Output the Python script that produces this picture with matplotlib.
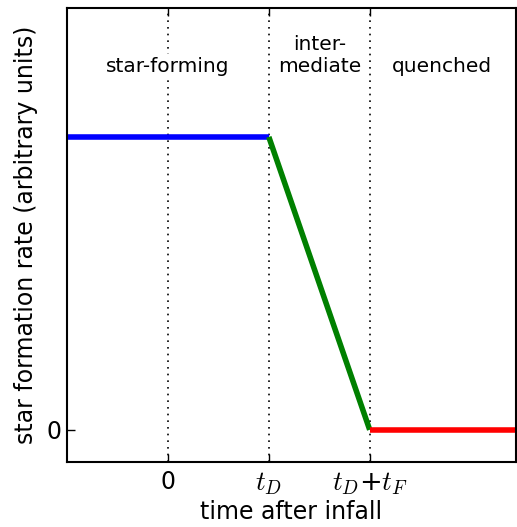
import matplotlib
matplotlib.use('Agg')
import matplotlib.pyplot as plt

plt.rcParams['mathtext.fontset'] = 'cm'

# sfr model: constant, linear decline, zero
t_D = 1.0
t_F = 1.0
x_min, x_max = -1.0, 3.45
sfr_high = 1.0

phase_x = [0.0, 1.5, 2.72]
phase_names = ['star-forming', 'inter-\nmediate', 'quenched']
tick_pos = [0.0, t_D, t_D + t_F]
tick_labels = ['0', r'$t_D$', r'$t_D$+$t_F$']

fig = plt.figure(figsize=(5.17, 5.27), dpi=100)
ax = fig.add_axes([0.1296, 0.1233, 0.8685, 0.8615])

ax.plot([x_min, t_D], [sfr_high, sfr_high], color='blue', lw=4, solid_capstyle='butt')
ax.plot([t_D, t_D + t_F], [sfr_high, 0], color='green', lw=4, solid_capstyle='butt')
ax.plot([t_D + t_F, x_max], [0, 0], color='red', lw=4, solid_capstyle='butt')

for x in tick_pos:
    ax.axvline(x, color='black', lw=1.2, dashes=(1, 3), zorder=0)

for x, name in zip(phase_x, phase_names):
    bb = dict(facecolor='white', edgecolor='none', pad=2) if x == 0.0 else None
    ax.text(x, 1.222, name, ha='center', va='baseline', fontsize=14.5, bbox=bb,
            linespacing=1.2)

ax.set_xlim(x_min, x_max)
ax.set_ylim(-0.11, 1.44)
ax.set_xticks(tick_pos)
ax.set_xticklabels(tick_labels)
ax.set_yticks([0])
ax.set_yticklabels(['0'])
ax.tick_params(direction='in', length=6, width=1, top=True, right=True)
ax.tick_params(axis='x', pad=6, labelsize=17)
ax.tick_params(axis='y', pad=4, labelsize=17)
for lab in ax.get_xticklabels()[1:]:
    lab.set_fontsize(19.5)
for s in ax.spines.values():
    s.set_linewidth(1.5)

ax.set_xlabel('time after infall', fontsize=17, labelpad=2)
ax.set_ylabel('star formation rate (arbitrary units)', fontsize=17, labelpad=6)

fig.savefig('out.png', dpi=100)
